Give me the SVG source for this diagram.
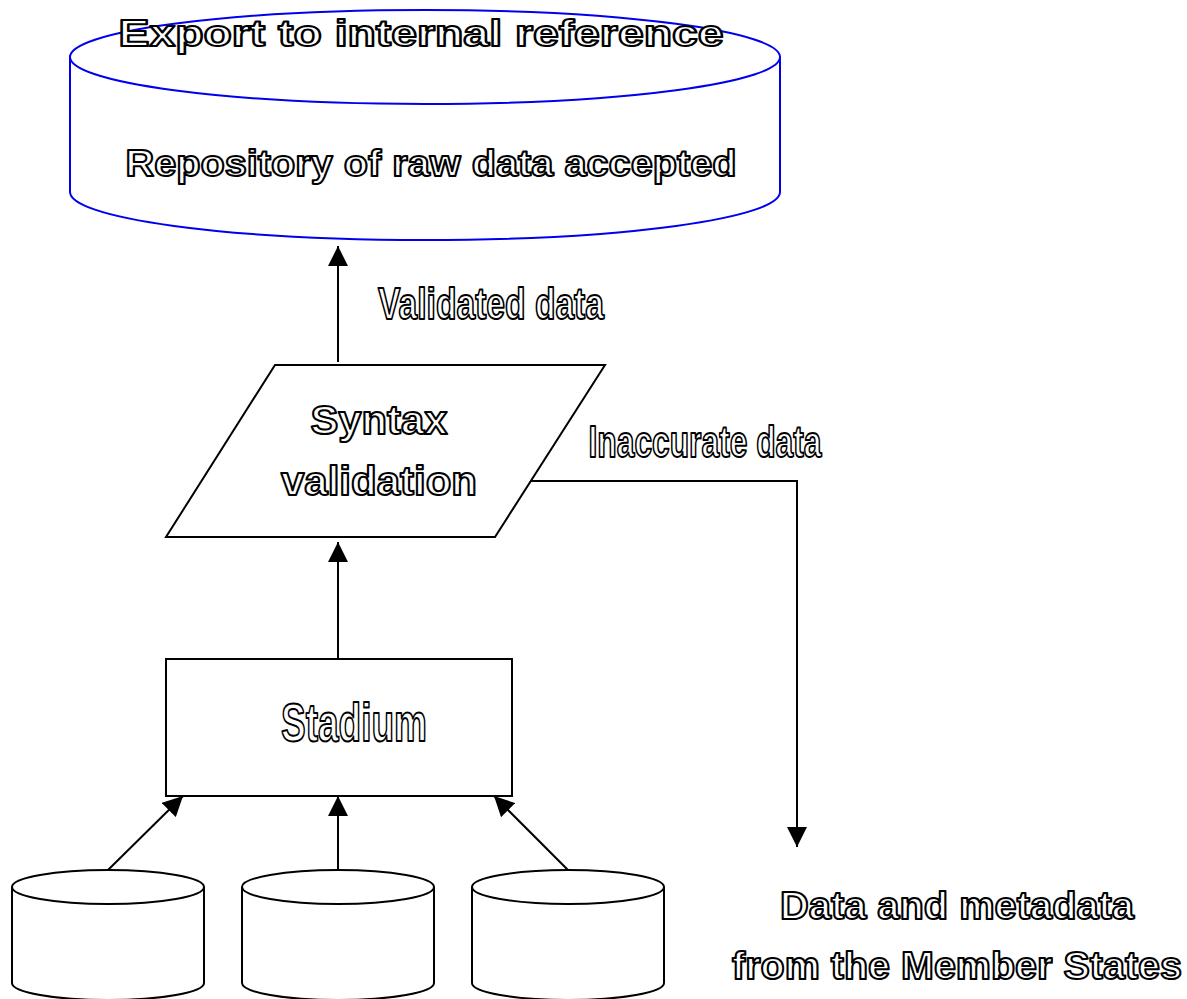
<svg xmlns="http://www.w3.org/2000/svg" width="1187" height="999" viewBox="0 0 1187 999">
<style>
.t{font-family:"Liberation Sans",Arial,sans-serif;font-weight:bold;fill:#fff;stroke:#000;stroke-width:2;stroke-linejoin:round;text-anchor:middle}
.s{fill:#fff;stroke:#000;stroke-width:2}
.c{fill:none;stroke:#000;stroke-width:2}
</style>
<defs>
<marker id="a" viewBox="0 0 20 20" refX="20" refY="10" markerWidth="20" markerHeight="20" markerUnits="userSpaceOnUse" orient="auto">
<path d="M0,0 L20,10 L0,20 z" fill="#000"/>
</marker>
</defs>
<rect width="1187" height="999" fill="#fff"/>
<g id="repository">
<path d="M70,57 L70,192 A355,48 0 0 0 780,192 L780,57 A355,47 0 0 0 70,57 A355,47 0 0 0 780,57" fill="#fff" stroke="#0000ee" stroke-width="2"/>
<text class="t" x="421" y="46" font-size="36" textLength="605" lengthAdjust="spacingAndGlyphs">Export to internal reference</text>
<text class="t" x="431" y="176" font-size="37" textLength="611" lengthAdjust="spacingAndGlyphs">Repository of raw data accepted</text>
</g>
<g id="syntax">
<polygon class="s" points="275,365 605,365 495,537 166,537"/>
<text class="t" x="379" y="434" font-size="40" textLength="137" lengthAdjust="spacingAndGlyphs">Syntax</text>
<text class="t" x="379" y="495" font-size="40" textLength="196" lengthAdjust="spacingAndGlyphs">validation</text>
</g>
<g id="stadium">
<rect class="s" x="166" y="659" width="346" height="137"/>
<text class="t" x="354" y="741" font-size="54" textLength="146" lengthAdjust="spacingAndGlyphs">Stadium</text>
</g>
<g id="source1">
<path class="s" d="M12,887 L12,983 A96,17 0 0 0 204,983 L204,887 A96,17 0 0 0 12,887 A96,17 0 0 0 204,887"/>
</g>
<g id="source2">
<path class="s" d="M242,887 L242,983 A96,17 0 0 0 434,983 L434,887 A96,17 0 0 0 242,887 A96,17 0 0 0 434,887"/>
</g>
<g id="source3">
<path class="s" d="M472,887 L472,983 A96,17 0 0 0 664,983 L664,887 A96,17 0 0 0 472,887 A96,17 0 0 0 664,887"/>
</g>
<g id="labels">
<text class="t" x="491" y="319" font-size="44" textLength="226" lengthAdjust="spacingAndGlyphs">Validated data</text>
<text class="t" x="705" y="457" font-size="44" textLength="233" lengthAdjust="spacingAndGlyphs">Inaccurate data</text>
<text class="t" x="957" y="919" font-size="38" textLength="354" lengthAdjust="spacingAndGlyphs">Data and metadata</text>
<text class="t" x="957" y="979" font-size="38" textLength="450" lengthAdjust="spacingAndGlyphs">from the Member States</text>
</g>
<g id="connectors">
<line class="c" x1="338" y1="362" x2="338" y2="246" marker-end="url(#a)"/>
<line class="c" x1="338" y1="659" x2="338" y2="542" marker-end="url(#a)"/>
<polyline class="c" points="530,481 797,481 797,847" marker-end="url(#a)"/>
<line class="c" x1="108" y1="870" x2="183" y2="796" marker-end="url(#a)"/>
<line class="c" x1="338" y1="870" x2="338" y2="796" marker-end="url(#a)"/>
<line class="c" x1="568" y1="870" x2="494" y2="796" marker-end="url(#a)"/>
</g>
</svg>
